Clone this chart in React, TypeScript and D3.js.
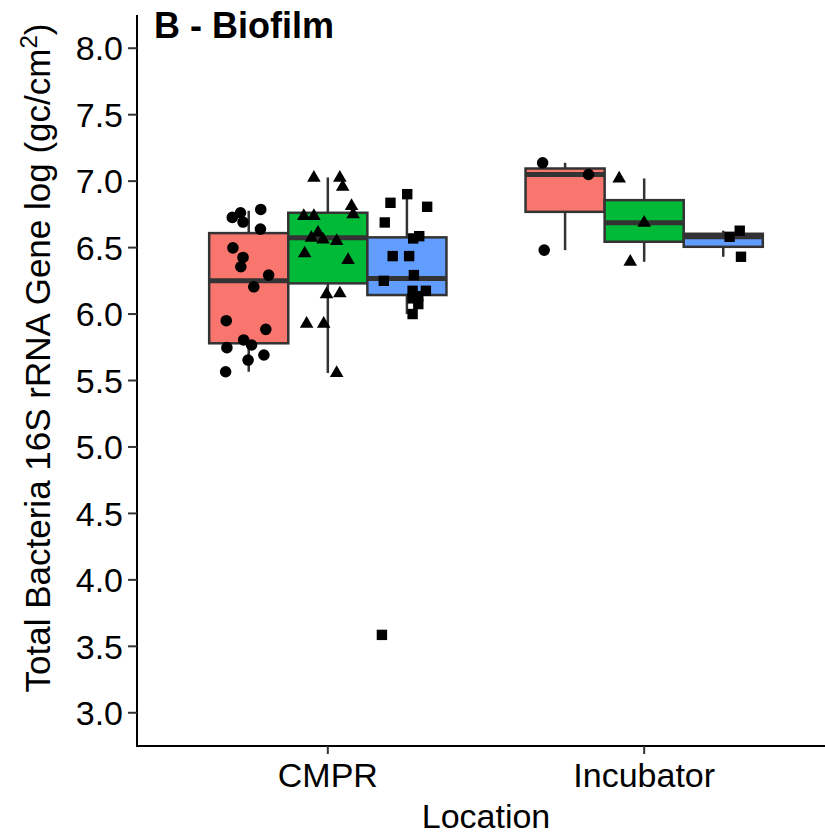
import React, { useEffect, useRef } from 'react';
import * as d3 from 'd3';

// Locations on the x axis and the three fill groups
const locations = ['CMPR', 'Incubator'];
const groupColors = ['#F8766D', '#00BA38', '#619CFF'];
const groupShapes = ['circle', 'triangle', 'square'];
const yTicks = [3.0, 3.5, 4.0, 4.5, 5.0, 5.5, 6.0, 6.5, 7.0, 7.5, 8.0];

// Box stats [lower whisker, q1, median, q3, upper whisker] per group
const cmprStats = [
  [5.566, 5.78, 6.25, 6.609, 6.777],
  [5.556, 6.231, 6.574, 6.762, 7.028],
  [6.0, 6.143, 6.268, 6.577, 6.915],
];
const incubatorStats = [
  [6.481, 6.769, 7.05, 7.095, 7.138],
  [6.393, 6.544, 6.687, 6.857, 7.02],
  [6.431, 6.506, 6.581, 6.604, 6.627],
];

// Jittered points: [jitter (x units), value]
const cmprRed = [
  [-0.052, 6.727], [-0.026, 6.762], [-0.018, 6.692], [0.038, 6.787], [0.037, 6.639],
  [-0.05, 6.498], [-0.018, 6.426], [-0.025, 6.356], [0.063, 6.293], [0.016, 6.205],
  [-0.071, 5.95], [0.054, 5.885], [-0.016, 5.805], [0.009, 5.767], [-0.069, 5.747],
  [-0.002, 5.654], [0.048, 5.692], [-0.073, 5.566],
];
const cmprGreen = [
  [-0.044, 7.025], [0.038, 7.025], [0.047, 6.957], [0.075, 6.812], [0.08, 6.75],
  [-0.076, 6.737], [-0.044, 6.737], [-0.031, 6.612], [-0.052, 6.574], [-0.015, 6.561],
  [0.028, 6.549], [-0.073, 6.456], [0.064, 6.406], [-0.004, 6.148], [0.038, 6.155],
  [-0.067, 5.927], [-0.013, 5.927], [0.028, 5.556],
];
const cmprBlue = [
  [0.001, 6.902], [-0.052, 6.837], [0.064, 6.807], [-0.07, 6.689], [0.039, 6.586],
  [0.02, 6.569], [-0.045, 6.436], [0.007, 6.436], [0.022, 6.293], [-0.073, 6.25],
  [0.018, 6.175], [0.06, 6.175], [0.036, 6.135], [0.018, 6.118], [0.036, 6.075],
  [0.018, 6.0], [-0.079, 3.586],
];
const incubatorRed = [[-0.071, 7.138], [0.074, 7.05], [-0.066, 6.481]];
const incubatorGreen = [[-0.079, 7.02], [0, 6.687], [-0.044, 6.393]];
const incubatorBlue = [[0.052, 6.627], [0.02, 6.581], [0.056, 6.431]];

const stats = [cmprStats, incubatorStats];
const points = [
  [cmprRed, cmprGreen, cmprBlue],
  [incubatorRed, incubatorGreen, incubatorBlue],
];

const App: React.FC = () => {
  const svgRef = useRef<SVGSVGElement>(null);

  useEffect(() => {
    if (!svgRef.current) return;
    d3.select(svgRef.current).selectAll('*').remove();

    const width = 825;
    const height = 836;
    const font = '"Liberation Sans", Arial, sans-serif';

    const panel = { left: 137, right: 825, top: 15, bottom: 746 };

    const svg = d3.select(svgRef.current)
      .attr('width', width)
      .attr('height', height);

    // location index 1..2 on a continuous scale, ggplot-like expansion
    const x = d3.scaleLinear().domain([0.4, 2.6]).range([138, 834]);
    const y = d3.scaleLinear().domain([2.75, 8.25]).range([panel.bottom, panel.top]);

    const dodge = 0.25;
    const boxW = x(dodge) - x(0);

    const g = svg.append('g');

    // Boxplots
    stats.forEach((locStats, li) => {
      locStats.forEach((s, gi) => {
        const cx = x(li + 1 + (gi - 1) * dodge);
        const [lo, q1, med, q3, hi] = s;
        g.append('line')
          .attr('x1', cx).attr('x2', cx)
          .attr('y1', y(hi)).attr('y2', y(q3))
          .attr('stroke', '#333333').attr('stroke-width', 2.5);
        g.append('line')
          .attr('x1', cx).attr('x2', cx)
          .attr('y1', y(q1)).attr('y2', y(lo))
          .attr('stroke', '#333333').attr('stroke-width', 2.5);
        g.append('rect')
          .attr('x', cx - boxW / 2)
          .attr('y', y(q3))
          .attr('width', boxW)
          .attr('height', y(q1) - y(q3))
          .attr('fill', groupColors[gi])
          .attr('stroke', '#333333')
          .attr('stroke-width', 2.5);
        g.append('line')
          .attr('x1', cx - boxW / 2).attr('x2', cx + boxW / 2)
          .attr('y1', y(med)).attr('y2', y(med))
          .attr('stroke', '#333333').attr('stroke-width', 5);
      });
    });

    // Jittered points
    const shapePath = (shape: string) => {
      if (shape === 'square') return 'M-5.2,-5.2H5.2V5.2H-5.2Z';
      if (shape === 'triangle') return 'M0,-7.8L6.8,3.9L-6.8,3.9Z';
      return d3.arc()({ innerRadius: 0, outerRadius: 5.8, startAngle: 0, endAngle: 2 * Math.PI }) as string;
    };

    points.forEach((locPts, li) => {
      locPts.forEach((pts, gi) => {
        const center = li + 1 + (gi - 1) * dodge;
        g.selectAll(null)
          .data(pts)
          .enter().append('path')
          .attr('d', shapePath(groupShapes[gi]))
          .attr('transform', d => `translate(${x(center + d[0])},${y(d[1])})`)
          .attr('fill', '#000');
      });
    });

    // Y axis
    const yAxis = svg.append('g');
    yAxis.append('line')
      .attr('x1', panel.left).attr('x2', panel.left)
      .attr('y1', panel.top).attr('y2', panel.bottom + 1)
      .attr('stroke', '#000').attr('stroke-width', 2);
    yTicks.forEach(t => {
      yAxis.append('line')
        .attr('x1', panel.left - 9).attr('x2', panel.left)
        .attr('y1', y(t)).attr('y2', y(t))
        .attr('stroke', '#333333').attr('stroke-width', 2);
      yAxis.append('text')
        .attr('x', panel.left - 14)
        .attr('y', y(t))
        .attr('dy', '0.36em')
        .attr('text-anchor', 'end')
        .attr('font-family', font)
        .attr('font-size', 34)
        .attr('fill', '#000')
        .text(t.toFixed(1));
    });

    // X axis
    const xAxis = svg.append('g');
    xAxis.append('line')
      .attr('x1', panel.left - 1).attr('x2', panel.right)
      .attr('y1', panel.bottom).attr('y2', panel.bottom)
      .attr('stroke', '#000').attr('stroke-width', 2);
    locations.forEach((loc, i) => {
      xAxis.append('line')
        .attr('x1', x(i + 1)).attr('x2', x(i + 1))
        .attr('y1', panel.bottom).attr('y2', panel.bottom + 8)
        .attr('stroke', '#333333').attr('stroke-width', 2);
      xAxis.append('text')
        .attr('x', x(i + 1))
        .attr('y', 787)
        .attr('text-anchor', 'middle')
        .attr('font-family', font)
        .attr('font-size', 34)
        .attr('fill', '#000')
        .text(loc);
    });

    // Axis titles
    svg.append('text')
      .attr('x', 486)
      .attr('y', 828)
      .attr('text-anchor', 'middle')
      .attr('font-family', font)
      .attr('font-size', 34)
      .attr('fill', '#000')
      .text('Location');

    const yTitle = svg.append('text')
      .attr('transform', 'translate(50,358) rotate(-90)')
      .attr('text-anchor', 'middle')
      .attr('font-family', font)
      .attr('font-size', 35)
      .attr('fill', '#000');
    yTitle.append('tspan').text('Total Bacteria 16S rRNA Gene log (gc/cm');
    yTitle.append('tspan').attr('dy', -13).attr('font-size', 24).text('2');
    yTitle.append('tspan').attr('dy', 13).text(')');

    // Panel title
    svg.append('text')
      .attr('x', 154)
      .attr('y', 38)
      .attr('font-family', font)
      .attr('font-size', 36)
      .attr('font-weight', 'bold')
      .attr('fill', '#000')
      .text('B - Biofilm');
  }, []);

  return <svg ref={svgRef} style={{ position: 'absolute', left: 0, top: 0 }}></svg>;
};

export default App;
